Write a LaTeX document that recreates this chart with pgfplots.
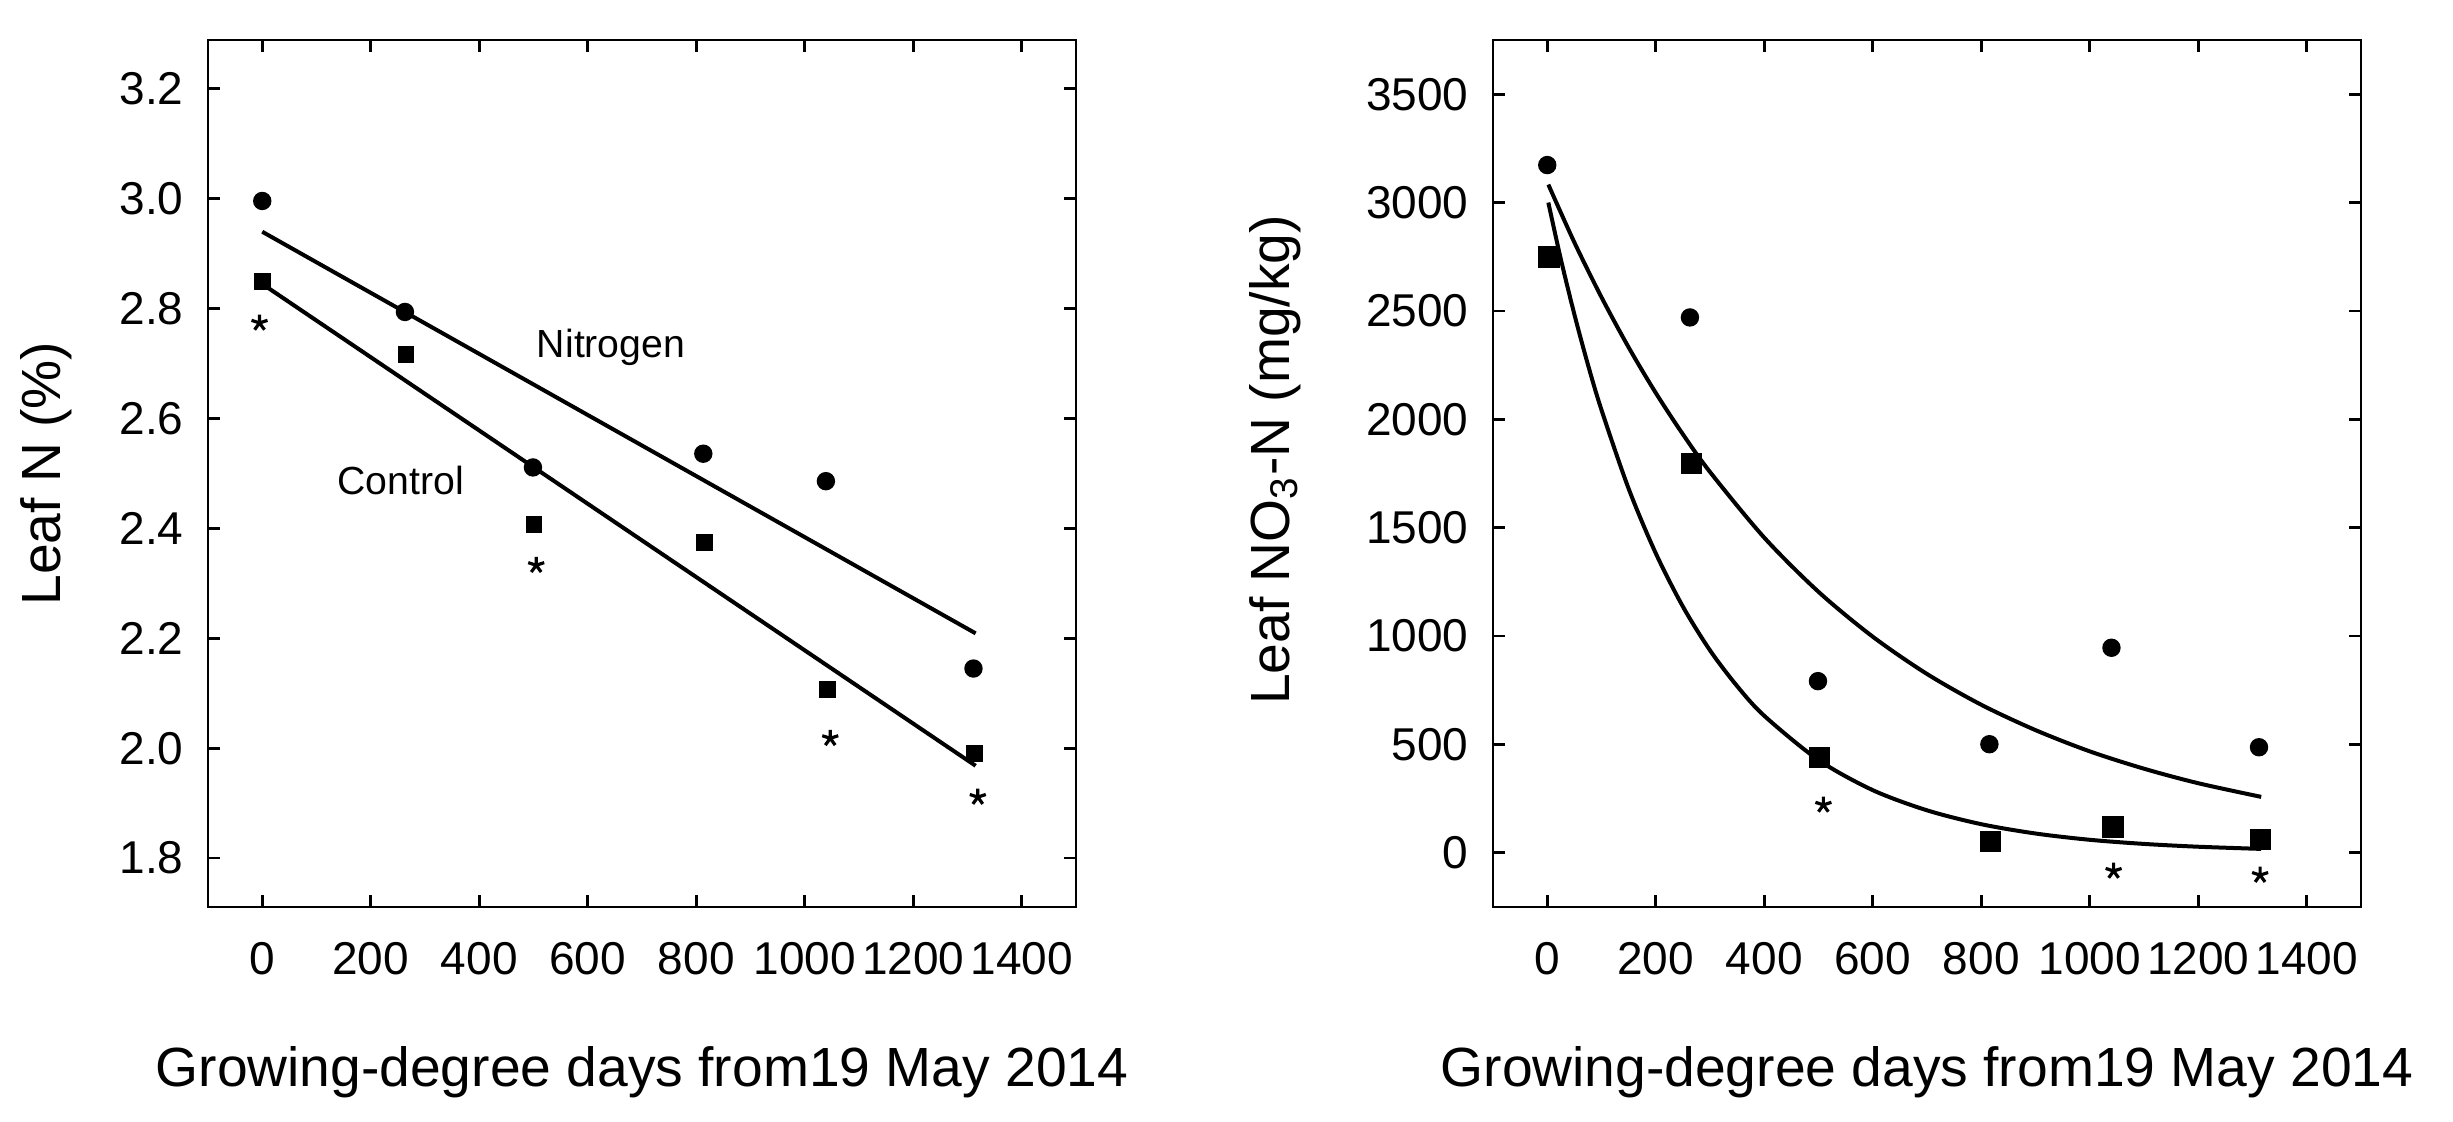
\documentclass[border=0pt]{standalone}
\usepackage{fontspec}
\setmainfont{Liberation Sans}
\usepackage{pgfplots}
\pgfplotsset{compat=1.18}
\pgfplotsset{
  myaxis/.style={
    scale only axis,
    width=217pt, height=216.75pt,
    xmin=-100, xmax=1500,
    xtick={0,200,...,1400},
    axis line style={line width=0.7pt},
    every tick/.style={black, line width=0.7pt},
    major tick length=3pt,
    tick align=inside,
    xtick pos=both, ytick pos=both,
    xticklabel pos=lower, yticklabel pos=left,
    /pgf/number format/assume math mode=true,
    /pgf/number format/1000 sep={},
    tick label style={font=\fontsize{11.5}{13}\selectfont},
    xticklabel shift=5.3pt,
    yticklabel shift=2.6pt,
    label style={font=\fontsize{13.8}{16}\selectfont},
    xlabel style={at={(axis description cs:0.5,-0.2076)}, anchor=base},
    xlabel={Growing-degree days from19 May 2014},
  },
  circ/.style={only marks, mark=*, mark size=2.1pt, black},
  fit/.style={black, line width=1pt, no marks},
  ast/.style={only marks, mark=star, mark size=2.1pt, black, mark options={line width=0.8pt}},
}
\begin{document}
\begin{tikzpicture}
\path[use as bounding box] (0,0) rectangle (613.25pt,280.5pt);
% ---------- Left panel ----------
\begin{axis}[myaxis,
  at={(52pt,53.75pt)}, anchor=south west,
  ymin=1.711, ymax=3.289,
  ytick={1.8,2.0,...,3.2},
  yticklabel style={/pgf/number format/fixed, /pgf/number format/precision=1, /pgf/number format/fixed zerofill},
  ylabel={Leaf N (\%)},
  ylabel style={at={(axis description cs:-0.1694,0.5)}, anchor=base},
]
\addplot[fit] coordinates {(0,2.940) (1315,2.209)};
\addplot[fit] coordinates {(0,2.845) (1315,1.968)};
\addplot[circ] coordinates {(0,2.996) (263,2.794) (499,2.511) (813,2.536) (1039,2.486) (1311,2.145)};
\addplot[only marks, mark=square*, mark size=1.9pt, black] coordinates {(1,2.850) (265,2.717) (501,2.407) (815,2.375) (1042,2.107) (1313,1.991)};
\addplot[ast] coordinates {(-5,2.774) (505,2.333) (1047,2.018) (1319,1.911)};
\node[anchor=base, font=\fontsize{9.8}{12}\selectfont, inner sep=0pt] at (axis cs:643,2.712) {Nitrogen};
\node[anchor=base, font=\fontsize{9.8}{12}\selectfont, inner sep=0pt] at (axis cs:255,2.461) {Control};
\end{axis}
% ---------- Right panel ----------
\begin{axis}[myaxis,
  at={(373.25pt,53.75pt)}, anchor=south west,
  ymin=-250, ymax=3750,
  ytick={0,500,...,3500},
  ylabel={Leaf NO\textsubscript{3}-N (mg/kg)},
  ylabel style={at={(axis description cs:-0.2348,0.5156)}, anchor=base},
]
\addplot[fit, smooth] coordinates {(2,3083) (50,2816) (100,2563) (150,2332) (200,2122) (250,1931) (300,1757) (400,1454) (500,1204) (600,997) (700,825) (800,683) (900,566) (1000,468) (1100,388) (1200,321) (1316,258)};
\addplot[fit, smooth] coordinates {(2,3000) (25,2739) (50,2484) (75,2252) (100,2043) (150,1680) (200,1382) (250,1136) (300,934) (350,769) (400,632) (500,428) (600,289) (700,196) (800,132) (900,89) (1000,60) (1100,41) (1200,28) (1316,18)};
\addplot[circ] coordinates {(0,3173) (263,2470) (499,792) (815,501) (1040,946) (1312,487)};
\addplot[only marks, mark=square*, mark size=2.5pt, black] coordinates {(3,2750) (266,1796) (502,439) (817,53) (1043,118) (1315,62)};
\addplot[ast] coordinates {(509,221) (1044,-84) (1314,-103)};
\end{axis}
\end{tikzpicture}
\end{document}
